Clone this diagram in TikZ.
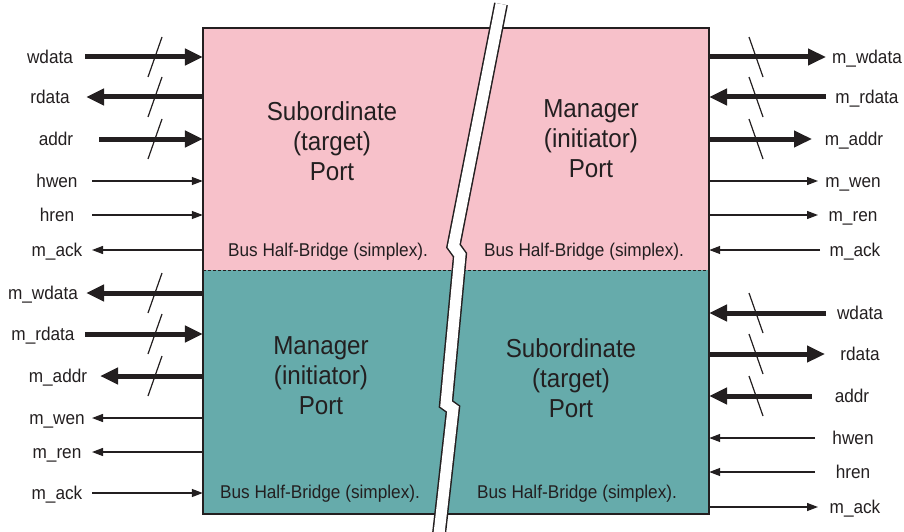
\documentclass[tikz,border=0pt]{standalone}
\usepackage{fontspec}
\setmainfont[FakeStretch=0.93]{Liberation Sans}
\usetikzlibrary{arrows.meta,positioning}
\definecolor{subpink}{RGB}{247,193,202}
\definecolor{mgrteal}{RGB}{102,171,171}
\definecolor{ink}{RGB}{35,31,32}

\begin{document}
\begin{tikzpicture}[x=1pt,y=-1pt,
  every node/.style={font=\fontsize{18.5}{22}\selectfont,text=ink,inner sep=0pt},
  sig/.style={anchor=base,yshift=-6.5pt},
  half/.style={minimum width=506pt},
  port/.style={font=\fontsize{26}{30}\selectfont,align=center},
  bus/.style={line width=5pt,draw=ink,-{Triangle[length=18pt,width=16pt]}},
  wire/.style={line width=1.3pt,draw=ink,-{Triangle[length=11pt,width=8pt]}},
  cut/.style={line width=1.2pt,draw=ink}]
\useasboundingbox (0,0) rectangle (904,532);

% the two halves of the bridge
\node[half,fill=subpink,minimum height=242pt] (top) at (456,149) {};
\node[half,fill=mgrteal,minimum height=244pt] (bot) at (456,392) {};
\draw[ink,line width=1.5pt] (top.north west) rectangle (bot.south east);
\draw[ink,line width=1.2pt,dash pattern=on 3pt off 2pt] (top.south west) -- (top.south east);

\node[port] (p1) at (332,141) {Subordinate\\(target)\\Port};
\node[port] (p2) at (591,139) {Manager\\(initiator)\\Port};
\node[port] (p3) at (321,376) {Manager\\(initiator)\\Port};
\node[port] (p4) at (571,378) {Subordinate\\(target)\\Port};

\node (n1) at (328,252) {Bus Half-Bridge (simplex).};
\node (n2) at (584,252) {Bus Half-Bridge (simplex).};
\node (n3) at (320,494) {Bus Half-Bridge (simplex).};
\node (n4) at (577,494) {Bus Half-Bridge (simplex).};

% left side, top
\node[sig] (a1) at (50,57) {wdata};
\draw[bus] (85,57) -- (top.west |- 0,57);
\node[sig] (a2) at (50,97) {rdata};
\draw[bus] (top.west |- 0,97) -- (86,97);
\node[sig] (a3) at (56,139) {addr};
\draw[bus] (99,139) -- (top.west |- 0,139);
\node[sig] (a4) at (57,181) {hwen};
\draw[wire] (92,181) -- (top.west |- 0,181);
\node[sig] (a5) at (57,215) {hren};
\draw[wire] (92,215) -- (top.west |- 0,215);
\node[sig] (a6) at (57,250) {m\_ack};
\draw[wire] (top.west |- 0,250) -- (92,250);

% right side, top
\node[sig] (b1) at (867,57) {m\_wdata};
\draw[bus] (top.east |- 0,57) -- (826,57);
\node[sig] (b2) at (867,97) {m\_rdata};
\draw[bus] (826,97) -- (top.east |- 0,97);
\node[sig] (b3) at (854,139) {m\_addr};
\draw[bus] (top.east |- 0,139) -- (812,139);
\node[sig] (b4) at (853,181) {m\_wen};
\draw[wire] (top.east |- 0,181) -- (818,181);
\node[sig] (b5) at (853,215) {m\_ren};
\draw[wire] (top.east |- 0,215) -- (818,215);
\node[sig] (b6) at (855,250) {m\_ack};
\draw[wire] (820,250) -- (top.east |- 0,250);

% left side, bottom
\node[sig] (c1) at (43,293) {m\_wdata};
\draw[bus] (bot.west |- 0,293) -- (86,293);
\node[sig] (c2) at (43,334) {m\_rdata};
\draw[bus] (85,334) -- (bot.west |- 0,334);
\node[sig] (c3) at (58,376) {m\_addr};
\draw[bus] (bot.west |- 0,376) -- (100,376);
\node[sig] (c4) at (57,418) {m\_wen};
\draw[wire] (bot.west |- 0,418) -- (92,418);
\node[sig] (c5) at (57,452) {m\_ren};
\draw[wire] (bot.west |- 0,452) -- (92,452);
\node[sig] (c6) at (57,493) {m\_ack};
\draw[wire] (92,493) -- (bot.west |- 0,493);

% right side, bottom
\node[sig] (d1) at (860,313) {wdata};
\draw[bus] (826,313) -- (bot.east |- 0,313);
\node[sig] (d2) at (860,354) {rdata};
\draw[bus] (bot.east |- 0,354) -- (825,354);
\node[sig] (d3) at (852,396) {addr};
\draw[bus] (812,396) -- (bot.east |- 0,396);
\node[sig] (d4) at (853,438) {hwen};
\draw[wire] (815,438) -- (bot.east |- 0,438);
\node[sig] (d5) at (853,472) {hren};
\draw[wire] (815,472) -- (bot.east |- 0,472);
\node[sig] (d6) at (855,507) {m\_ack};
\draw[wire] (bot.east |- 0,507) -- (818,507);

% width marks on the buses
\foreach \y in {57,97,139,293,334,376}
  \draw[cut] (148,\y+20) -- (162,\y-20);
\foreach \y in {57,97,139,313,354,396}
  \draw[cut] (749,\y-20) -- (763,\y+20);

% the break
\draw[ink,line width=1.5pt,double=white,double distance=11pt,line join=miter]
  (501,4) -- (453.5,246) -- (460,255) -- (446,404) -- (453,409) -- (439,534);
\end{tikzpicture}
\end{document}
